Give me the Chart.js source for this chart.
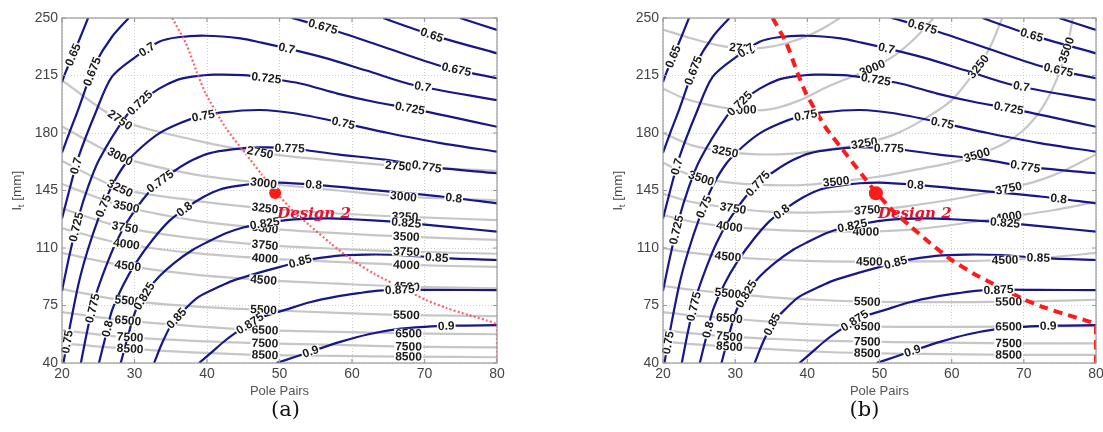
<!DOCTYPE html>
<html><head><meta charset="utf-8">
<script src="https://cdn.jsdelivr.net/npm/chart.js@4.4.1/dist/chart.umd.min.js"></script>
<style>
html,body{margin:0;padding:0;background:#fff;width:1103px;height:432px;overflow:hidden}
canvas{position:absolute;left:0;top:0}
</style></head><body>
<canvas id="ca" width="1103" height="432" style="width:1103px;height:432px"></canvas>
<canvas id="cb" width="1103" height="432" style="width:1103px;height:432px"></canvas>
<script>
// ---------- axes ----------
const xTicks = [20,30,40,50,60,70,80];
const yTicks = [40,75,110,145,180,215,250];

// ---------- efficiency contours (blue), shared by (a) and (b) ----------
const eff0625 = [[74.9,250],[80,242.7]];
const eff065a = [[20,211],[20.5,217],[21.4,226.5],[22.5,238],[23.6,250]];
const eff065b = [[64.3,250],[71,239.7],[80,228.5]];
const eff0675a = [[20,168],[21,180],[22.3,195],[23.5,210],[24.6,222.4],[26.9,238.6],[29.2,250]];
const eff0675b = [[51.7,250],[56,244.7],[64,233],[72.6,220.4],[80,213.3]];
const eff070 = [[20,128],[21,145],[22.3,165.6],[24.6,192],[26.9,214.3],[30.2,226.5],[33.4,235.6],[36,238.3],[39.8,239.2],[44.6,237.6],[47.5,235],[51,231.5],[56,226],[62,218],[68.5,209.2],[80,200]];
const eff0725 = [[20,84],[21,105],[22.3,129],[23.5,146],[25.1,163.6],[28.8,190],[31,199.5],[33.4,207],[36,212.5],[38,214.3],[41,215.5],[45,215.2],[48.2,213.5],[53,210],[58,204],[63,199],[68,195],[74,189.5],[80,183.8]];
const eff075 = [[20.2,40],[21,60],[22.3,88.5],[23.5,108],[25.1,129],[26.8,147],[28.8,161.6],[31,171.5],[33.4,179.8],[36,185.5],[38.9,190],[42,192.5],[47.3,194],[52,192],[58.8,186],[65,180],[72,174],[80,168.6]];
const eff0775 = [[22.6,40],[23.5,60],[24.6,80.4],[26,98],[27.4,112.9],[29,126],[31.1,139.2],[33.2,149.5],[35.7,157.5],[38,163.5],[40.3,167.6],[43.5,170],[47.3,171.2],[51.4,170.7],[58,167],[64.8,163.6],[70.3,159.5],[80,155.5]];
const eff080 = [[25.1,40],[26,56],[26.9,72],[28.5,88],[30.2,101],[32.5,115],[34.8,126.5],[37,134],[39.5,141],[41.7,145.5],[44.5,148],[47.3,149.4],[50,149.8],[54.7,148.6],[60,146.5],[66,144],[72.6,141.2],[80,137.2]];
const eff0825 = [[28.1,40],[29.2,58],[30.2,72.3],[31.8,84],[33.4,92.6],[35.5,101],[38,108.8],[40,113.5],[42.6,119],[45,122.5],[47.3,124.5],[50.9,127],[56.5,128],[60,127.5],[65.7,126],[68.3,125],[74,122.5],[80,120]];
const eff085 = [[32.7,40],[33.8,52],[35.2,64.2],[37,73],[38.9,80.4],[41.7,86.5],[43.5,90],[47.2,95],[50.9,99.5],[53,102],[57.8,105.2],[62,106],[66.9,105.7],[72,104],[80,102.7]];
const eff0875 = [[38.9,40],[40.5,46],[42.6,54],[44.5,60],[47,67],[50.9,72.5],[54.2,77],[57.8,80.4],[61.1,82.6],[63.7,84],[67,84.6],[72,84.5],[80,84.4]];
const eff090 = [[49.6,40],[52,43.5],[55,48],[58.5,53],[62.3,57.5],[66,60.5],[70,62],[74,62.7],[80,63]];
const effContours = [
  ['0.625',eff0625],['0.65',eff065a],['0.65',eff065b],['0.675',eff0675a],['0.675',eff0675b],
  ['0.7',eff070],['0.725',eff0725],['0.75',eff075],['0.775',eff0775],['0.8',eff080],
  ['0.825',eff0825],['0.85',eff085],['0.875',eff0875],['0.9',eff090]
];

// ---------- cost contours (grey), plot (a) ----------
const costAX = [20,28,38,48,58,67.5,80];
const costA2750 = [212,188,176,167.6,163,159.5,157];
const costA3000 = [184,165.6,155,149.4,145,141.2,139];
const costA3250 = [163,146.3,139,134.2,131,129,127];
const costA3500 = [149,136,127,122,119,116.9,115];
const costA3750 = [134,123,116,111.8,109.5,107.8,106.5];
const costA4000 = [122,112.9,107,103.7,101.5,99.7,98.5];
const costA4500 = [107,99.7,94,90.5,88.3,86.5,85.5];
const costA5500 = [85,78.4,74.5,72.3,70.5,69.2,68.5];
const costA6500 = [71,66.2,62.5,60,59,58,57.5];
const costA7500 = [60,56,53.5,52,51,50,49.5];
const costA8500 = [52,49,46.5,44.9,44.3,43.9,43.5];
const costALevels = [['2750',costA2750],['3000',costA3000],['3250',costA3250],['3500',costA3500],['3750',costA3750],['4000',costA4000],['4500',costA4500],['5500',costA5500],['6500',costA6500],['7500',costA7500],['8500',costA8500]];

// ---------- cost contours (grey), plot (b) ----------
const costB2750 = [[20,243],[24,237.5],[28,233],[31,231.5],[34,232],[37,234.5],[40,239],[42.5,244.5],[44.5,250]];
const costB3000 = [[20,207],[23,201],[27,196.5],[31,194],[35,194.5],[39,200],[42.5,207.5],[46,214],[49,219.5],[52,227],[55,238],[57.5,250]];
const costB3250 = [[20,180],[24,172.5],[28.6,168.7],[33,167],[38,167.5],[43,170],[47.9,173.7],[52,179],[56,188],[60,200],[63.7,220.4],[65.5,234],[67,250]];
const costB3500 = [[20,162],[22.5,156.5],[25.3,152.4],[30,149.5],[35,148.3],[40,148.5],[44,150.4],[50,153.5],[56,158.5],[60,162],[63.5,166.6],[67,173],[70,182],[72.5,195],[74.5,212],[75.9,230.5],[76.8,250]];
const costB3750 = [[20,143],[24,138],[29.7,134.2],[35,132],[40,131.5],[44,132],[48.3,133.1],[54,135.5],[60,139.5],[63,142],[67.9,146.3],[72,151],[76,158],[80,167]];
const costB4000 = [[20,130],[24,126],[29.2,123],[34,121.3],[40,120.3],[48.1,120],[54,121],[60,124],[67.9,129],[74,133],[80,138]];
const costB4500 = [[20,110],[24,107],[29,104.8],[35,103],[41,102],[48.6,101.7],[55,101.8],[61,102],[67.4,102.7],[74,104.5],[80,107]];
const costB5500 = [[20,87],[24,84.5],[29,82.4],[35,80],[41,78.5],[48.3,77.3],[56,77],[63,77.1],[67.9,77.3],[74,77.8],[80,78.5]];
const costB6500 = [[20,71],[24,69],[29.2,67.2],[35,65],[41,63.5],[48.3,62.3],[56,62],[67.9,62.1],[80,62.5]];
const costB7500 = [[20,60],[24,58],[29.2,56],[35,54.7],[41,53.6],[48.3,53],[56,52.5],[67.9,52],[80,52]];
const costB8500 = [[20,53],[24,51.5],[29.2,50],[35,48.5],[41,47],[48.3,46],[56,45.5],[67.9,45],[80,45]];
const costBLevels = [['2750',costB2750],['3000',costB3000],['3250',costB3250],['3500',costB3500],['3750',costB3750],['4000',costB4000],['4500',costB4500],['5500',costB5500],['6500',costB6500],['7500',costB7500],['8500',costB8500]];

// ---------- design path (red) and design point ----------
const designPath = [[35.2,250],[37.1,234.6],[38.6,217],[39.8,204.2],[42.6,183],[45.3,167.6],[47.5,155],[49.5,144],[52,132],[54.1,124],[57,113],[60,102.7],[63,94.5],[65.6,88.5],[70.2,78.4],[73,73.5],[76.1,69.2],[78.5,66],[80,63],[80,40]];
const designA = [49.4,143.5];
const designB = [49.5,143.3];
const designName = 'Design 2';

// ---------- contour label anchors ----------
const effLabelsA = [
 ['0.65',21.3,228],['0.65',71,239.7],
 ['0.675',23.8,218],['0.675',56,244.7],['0.675',74.4,218.4],
 ['0.7',21.9,160],['0.7',31.9,229.5],['0.7',51,231.5],['0.7',69.8,209.2],
 ['0.725',22.7,122],['0.725',30.8,198],['0.725',48.2,214],['0.725',68,195],
 ['0.75',20.6,53],['0.75',25.5,136],['0.75',39.5,190],['0.75',58.8,185.9],
 ['0.775',24.3,73.3],['0.775',33.1,153.4],['0.775',51.4,170.7],['0.775',70.3,159.5],
 ['0.8',26.2,61],['0.8',37,133],['0.8',54.7,148.4],['0.8',74,139.2],
 ['0.825',32.6,77.3],['0.825',48,124],['0.825',67.5,126],
 ['0.85',36.3,65.2],['0.85',52.8,102.7],['0.85',71.7,104.8],
 ['0.875',45.9,64.2],['0.875',66.6,84.4],
 ['0.9',54.2,48],['0.9',73,62.5]
];
const costLabelsA = [
 ['2750',28,188],['2750',47.3,167.6],['2750',66.4,159.5],
 ['3000',28,165.6],['3000',47.8,149.4],['3000',67.1,141.2],
 ['3250',28,146.3],['3250',48,134.2],['3250',67.3,129],
 ['3500',28.9,136],['3500',48,122],['3500',67.5,116.9],
 ['3750',28.7,123],['3750',48,111.8],['3750',67.5,107.8],
 ['4000',28.9,112.9],['4000',48,103.7],['4000',67.5,99.7],
 ['4500',29.1,99.7],['4500',47.8,90.5],['4500',67.5,86.5],
 ['5500',29.1,78.4],['5500',47.8,72.3],['5500',67.5,69.2],
 ['6500',29.1,66.2],['6500',48,60],['6500',67.8,58],
 ['7500',29.4,56],['7500',48,52],['7500',67.8,50],
 ['8500',29.4,49],['8500',48,44.9],['8500',67.8,43.9]
];
const effLabelsB = [
 ['0.65',21.4,226.5],['0.65',71.1,239.7],
 ['0.675',24,218.4],['0.675',55.9,243.7],['0.675',74.8,218.4],
 ['0.7',21.9,159.5],['0.7',31.3,231.5],['0.7',50.9,230.5],['0.7',69.7,209.2],
 ['0.725',21.9,121],['0.725',30.6,198],['0.725',49.5,212.3],['0.725',67.9,195],
 ['0.75',21.2,52],['0.75',25.6,135.2],['0.75',39.8,190],['0.75',58.7,185.9],
 ['0.775',24.4,74.3],['0.775',33.1,149.4],['0.775',51.3,170.7],['0.775',70.2,159.5],
 ['0.8',26.5,60],['0.8',36.6,131.1],['0.8',55,149.4],['0.8',74.8,139.2],
 ['0.825',32.9,78.4],['0.825',46.2,124],['0.825',67.4,125],
 ['0.85',35.7,62.2],['0.85',52.2,101.7],['0.85',72,103.7],
 ['0.875',46.2,68.2],['0.875',66.5,83.4],
 ['0.9',54.5,48],['0.9',73.4,61]
];
const costLabelsB = [
 ['2750',31,231.5],
 ['3000',31.1,194],['3000',49,219.5],
 ['3250',28.6,168.7],['3250',47.9,173.7],['3250',63.7,220.4],
 ['3500',25.3,152.4],['3500',44,150.4],['3500',63.5,166.6],['3500',75.9,230.5],
 ['3750',29.7,134.2],['3750',48.3,133.1],['3750',67.9,146.3],
 ['4000',29.2,123],['4000',48.1,120],['4000',67.9,129],
 ['4500',29,104.8],['4500',48.6,101.7],['4500',67.4,102.7],
 ['5500',29,82.4],['5500',48.3,77.3],['5500',67.9,77.3],
 ['6500',29.2,67.2],['6500',48.3,62.3],['6500',67.9,62.1],
 ['7500',29.2,56],['7500',48.3,53],['7500',67.9,52],
 ['8500',29.2,50],['8500',48.3,46],['8500',67.9,45]
];

// ---------- rendering ----------
const SANS = "'Liberation Sans', Arial, Helvetica, sans-serif";
const SERIF = "'DejaVu Serif', serif";
const BLUE = '#17178a', GREY = '#c6c6c6', RED = '#ff1a1a';
const toPts = a => a.map(([x,y]) => ({x, y}));

function buildDatasets(cost, costIsGrid, design, redStyle){
  const ds = [];
  ds.push({level:'design', data:[{x:design[0], y:design[1]}], showLine:false,
           pointRadius:redStyle.dot, pointBackgroundColor:RED, pointBorderWidth:0});
  ds.push({level:'path', data:toPts(designPath), showLine:true, borderColor:redStyle.color,
           borderWidth:redStyle.width, borderDash:redStyle.dash, pointRadius:0, tension:0.2, clip:0});
  effContours.forEach(([lv, pts]) => ds.push({level:lv, data:toPts(pts), showLine:true,
           borderColor:BLUE, borderWidth:2.2, pointRadius:0, tension:0.3, clip:0}));
  cost.forEach(([lv, vals]) => {
    const pts = costIsGrid ? costAX.map((x,i) => ({x, y: vals[i]})) : toPts(vals);
    ds.push({level:lv, data:pts, showLine:true, borderColor:GREY, borderWidth:2.2,
             pointRadius:0, tension:0.3, clip:0});
  });
  return ds;
}

function nearestOnLines(chart, lv, px, py){
  const xs = chart.scales.x, ys = chart.scales.y;
  let best = null;
  chart.data.datasets.forEach(ds => {
    if (ds.level !== lv) return;
    const p = ds.data.map(d => [xs.getPixelForValue(d.x), ys.getPixelForValue(d.y)]);
    for (let i = 0; i < p.length - 1; i++){
      const [x0,y0] = p[i], [x1,y1] = p[i+1];
      const dx = x1-x0, dy = y1-y0, L = dx*dx+dy*dy || 1;
      let t = ((px-x0)*dx + (py-y0)*dy) / L; t = Math.max(0, Math.min(1, t));
      const qx = x0+t*dx, qy = y0+t*dy, d = (qx-px)**2 + (qy-py)**2;
      if (!best || d < best.d) best = {d, x:qx, y:qy, a:Math.atan2(dy, dx)};
    }
  });
  return best;
}

function framePlugin(labels, tag, design){
  return {
    id:'frame'+tag,
    afterDatasetsDraw(chart){
      const ctx = chart.ctx, a = chart.chartArea, xs = chart.scales.x, ys = chart.scales.y;
      // contour labels
      ctx.save();
      ctx.font = 'bold 12px ' + SANS;
      ctx.textAlign = 'center'; ctx.textBaseline = 'middle';
      labels.forEach(([lv, x, y]) => {
        const q = nearestOnLines(chart, lv, xs.getPixelForValue(x), ys.getPixelForValue(y));
        if (!q) return;
        let ang = q.a;
        if (ang > Math.PI/2) ang -= Math.PI;
        if (ang < -Math.PI/2) ang += Math.PI;
        const w = ctx.measureText(lv).width;
        ctx.save();
        ctx.translate(q.x, q.y); ctx.rotate(ang);
        ctx.fillStyle = '#fff';
        ctx.fillRect(-w/2 - 1, -4.5, w + 2, 9);
        ctx.fillStyle = '#1a1a1a';
        ctx.fillText(lv, 0, 0.5);
        ctx.restore();
      });
      ctx.restore();
      // box with inward ticks
      ctx.save();
      ctx.strokeStyle = '#9a9a9a'; ctx.lineWidth = 1.2;
      ctx.strokeRect(a.left, a.top, a.right - a.left, a.bottom - a.top);
      ctx.beginPath();
      xTicks.forEach(v => { const x = xs.getPixelForValue(v);
        ctx.moveTo(x, a.bottom); ctx.lineTo(x, a.bottom - 4);
        ctx.moveTo(x, a.top); ctx.lineTo(x, a.top + 4); });
      yTicks.forEach(v => { const y = ys.getPixelForValue(v);
        ctx.moveTo(a.left, y); ctx.lineTo(a.left + 4, y);
        ctx.moveTo(a.right, y); ctx.lineTo(a.right - 4, y); });
      ctx.stroke();
      ctx.restore();
      // design point label
      ctx.save();
      const dx = xs.getPixelForValue(design[0]), dy = ys.getPixelForValue(design[1]);
      ctx.font = 'italic bold 15px ' + SERIF;
      ctx.fillStyle = '#e8102a'; ctx.textAlign = 'left'; ctx.textBaseline = 'alphabetic';
      ctx.fillText(designName, dx + 2, dy + 25);
      ctx.restore();
      // y-axis title with subscript
      ctx.save();
      const cx = a.left - 45, cy = (a.top + a.bottom) / 2;
      ctx.translate(cx, cy); ctx.rotate(-Math.PI/2);
      ctx.fillStyle = '#444'; ctx.textBaseline = 'middle'; ctx.textAlign = 'left';
      ctx.font = '13.5px ' + SANS; const w1 = ctx.measureText('l').width;
      ctx.font = '9.5px ' + SANS; const w2 = ctx.measureText('t').width;
      ctx.font = '13.5px ' + SANS; const w3 = ctx.measureText(' [mm]').width;
      let s = -(w1 + w2 + w3) / 2;
      ctx.fillText('l', s, 0); s += w1;
      ctx.font = '9.5px ' + SANS; ctx.fillText('t', s, 4); s += w2;
      ctx.font = '13.5px ' + SANS; ctx.fillText(' [mm]', s, 0);
      ctx.restore();
      // panel caption
      ctx.save();
      ctx.font = '21px ' + SERIF; ctx.fillStyle = '#111';
      ctx.textAlign = 'center'; ctx.textBaseline = 'middle';
      ctx.fillText(tag === 'a' ? '(a)' : '(b)', (a.left + a.right) / 2 + (tag === 'a' ? 6 : -15), 411);
      ctx.restore();
    }
  };
}

function makeChart(id, tag, datasets, labels, design, padLeft, padRight){
  return new Chart(document.getElementById(id), {
    type:'scatter',
    data:{datasets},
    options:{
      responsive:false, animation:false, devicePixelRatio:1,
      layout:{padding:{left:padLeft, right:padRight, top:18, bottom:29}},
      plugins:{legend:{display:false}, tooltip:{enabled:false}},
      scales:{
        x:{type:'linear', min:xTicks[0], max:xTicks[xTicks.length-1],
           afterBuildTicks(s){ s.ticks = xTicks.map(v => ({value:v})); },
           ticks:{padding:3, color:'#444', font:{family:SANS, size:14}},
           grid:{color:'#cfcfcf', lineWidth:1, drawTicks:false},
           border:{display:false, dash:[1,2]},
           title:{display:true, text:'Pole Pairs', color:'#555', font:{family:SANS, size:13}, padding:{top:0, bottom:4}},
           afterFit(s){ s.height = 40; s.paddingLeft = 0; s.paddingRight = 0; }},
        y:{type:'linear', min:yTicks[0], max:yTicks[yTicks.length-1],
           afterBuildTicks(s){ s.ticks = yTicks.map(v => ({value:v})); },
           ticks:{padding:4, color:'#444', font:{family:SANS, size:14}},
           grid:{color:'#cfcfcf', lineWidth:1, drawTicks:false},
           border:{display:false, dash:[1,2]},
           afterFit(s){ s.width = 62; s.paddingTop = 0; s.paddingBottom = 0; }}
      }
    },
    plugins:[framePlugin(labels, tag, design)]
  });
}

makeChart('ca', 'a',
  buildDatasets(costALevels, true, designA, {color:'rgba(255,70,80,0.85)', width:2.2, dash:[2,2.2], dot:6}),
  costLabelsA.concat(effLabelsA), designA, 0, 1103 - 497);
makeChart('cb', 'b',
  buildDatasets(costBLevels, false, designB, {color:RED, width:4, dash:[9,6], dot:7}),
  costLabelsB.concat(effLabelsB), designB, 601, 5);
</script>
</body></html>
